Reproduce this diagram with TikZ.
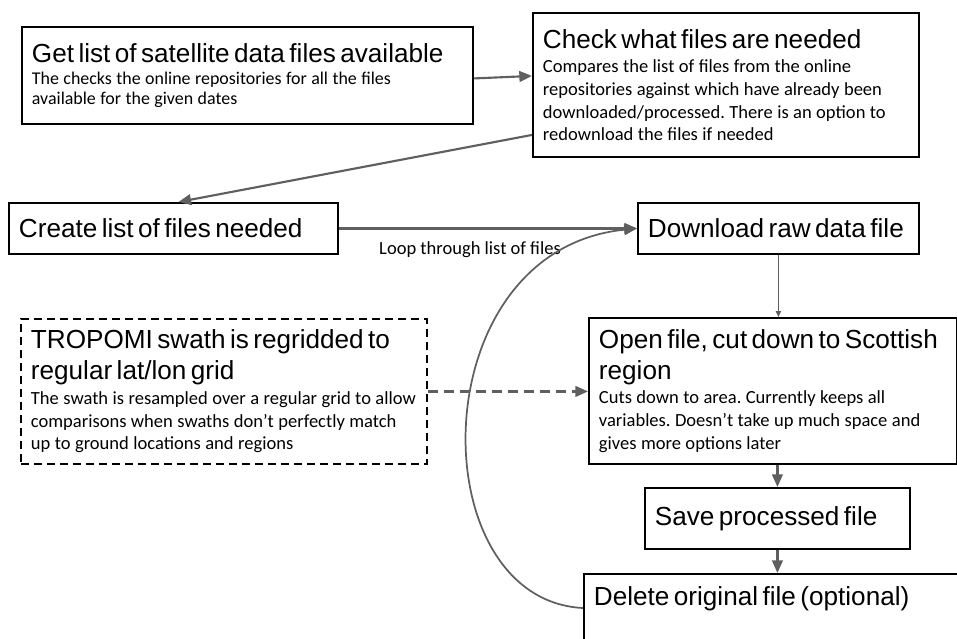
\documentclass[tikz,border=0pt]{standalone}
\usepackage{fontspec}
\setmainfont{Liberation Sans}
\newfontfamily\titlefont{Liberation Sans}
\newfontfamily\bodyfont{Carlito}
\usetikzlibrary{arrows.meta,calc}
\definecolor{arrowgray}{RGB}{95,95,95}
\frenchspacing
% heading and description text
\newcommand\ttl{\titlefont\fontsize{19.6pt}{23.25pt}\selectfont}
\newcommand\bdy{\bodyfont\fontsize{13.9pt}{17pt}\selectfont}
\newcommand\bdyB{\bodyfont\fontsize{13.45pt}{15pt}\selectfont}

\begin{document}
\begin{tikzpicture}[x=0.75pt,y=-0.75pt,
  box/.style={draw=black, line width=1.4pt, anchor=north west, align=left,
    inner xsep=7.5pt, inner ysep=0pt},
  dbox/.style={box, dash pattern=on 6pt off 3.75pt},
  link/.style={draw=arrowgray, line width=1.6pt,
    -{Triangle[length=9.5pt,width=8pt]}},
  thinlink/.style={draw=arrowgray, line width=0.8pt,
    -{Triangle[length=4.5pt,width=4pt]}},
  dlink/.style={link, dash pattern=on 7.5pt off 4.5pt},
  lbl/.style={font=\bdy, inner sep=0pt}
]
\useasboundingbox (0,0) rectangle (957,639);
\clip (0,0) rectangle (957,639);

% process boxes
\node[box, text width=323.25pt, minimum height=72.75pt] (b1) at (21,26)
  {\ttl Get list of satellite data files available\par\vspace{1.5pt}
   \bdyB The checks the online repositories for all the files\\
   available for the given dates\par};

\node[box, text width=274.5pt, minimum height=108pt] (b2) at (532,12)
  {\ttl Check what files are needed\par\vspace{1.5pt}
   \bdy Compares the list of files from the online\\
   repositories against which have already been\\
   downloaded/processed. There is an option to\\
   redownload the files if needed\par\vspace{4.5pt}};

\node[box, text width=231.75pt, minimum height=38.25pt] (b3) at (8,202)
  {\ttl Create list of files needed};

\node[box, text width=195.75pt, minimum height=38.25pt] (b4) at (637,202)
  {\ttl Download raw data file};

\node[dbox, text width=289.5pt, minimum height=108.75pt] (b5) at (20,318)
  {\ttl TROPOMI swath is regridded to\\ regular lat/lon grid\par\vspace{1.5pt}
   \bdy The swath is resampled over a regular grid to allow\\
   comparisons when swaths don’t perfectly match\\
   up to ground locations and regions\par};

\node[box, text width=261pt, minimum height=109.5pt] (b6) at (588,317)
  {\ttl Open file, cut down to Scottish\\ region\par\vspace{1.5pt}
   \bdy Cuts down to area. Currently keeps all\\
   variables. Doesn’t take up much space and\\
   gives more options later\par};

\node[box, text width=183.75pt, minimum height=45.75pt] (b7) at (644,487)
  {\ttl Save processed file};

\node[box, text width=297.75pt, text height=23.6pt, text depth=45pt] (b8) at (583,573)
  {\ttl Delete original file (optional)};

% connectors
\draw[link] ($(b1.east)+(0,3)$) -- ($(b2.west)+(0,-9)$);
\draw[link] ($(b2.west)+(0,50)$) -- ($(b3.north)+(5,0)$);
\draw[link] (b3.east) -- (b4.west)
  node[lbl, pos=0.44, yshift=-15.75pt] (looplbl) {Loop through list of files};
\draw[thinlink] (b4.south) -- (b4.south |- b6.north);
\draw[dlink] (b5.east) -- (b5.east -| b6.west);
\draw[link] (b6.south -| b7.north) -- (b7.north);
\draw[link] (b7.south) -- (b7.south |- b8.north);
\coordinate (loopstart) at ($(b8.north west)+(0,35)$);
\draw[link, line width=1.3pt] (loopstart) .. controls (420,600) and (420,250) .. (b4.west);
\end{tikzpicture}
\end{document}
